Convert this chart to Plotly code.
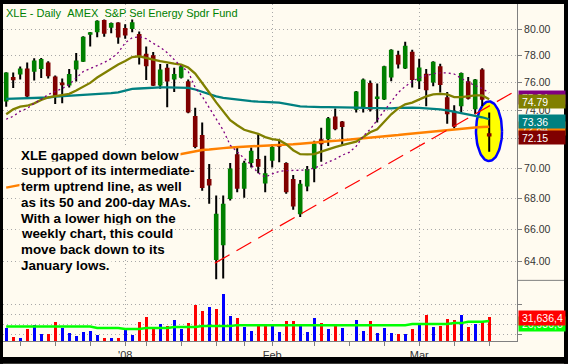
import math
import plotly.graph_objects as go

# ---------------- data ----------------
idx = list(range(70))
opens = [74.63, 76.41, 76.58, 77.02, 76.78, 76.99, 77.47, 76.44, 76.00, 75.78,
         76.95, 77.54, 79.57, 79.76, 80.71, 80.10, 80.52, 80.08, 80.02, 79.63,
         78.13, 78.02, 75.78, 77.08, 76.22, 76.35, 76.09, 73.59, 72.26, 69.27,
         64.07, 64.99, 67.95, 70.94, 68.61, 70.33, 70.60, 68.97, 70.49, 71.62,
         70.33, 69.27, 66.95, 68.76, 69.93, 71.97, 71.97, 73.55, 73.20, None,
         74.03, 74.17, 75.97, 74.81, 74.77, 76.36, 78.06, 77.02, 78.28, 76.09,
         76.65, 76.00, 77.19, 74.92, 73.97, 74.28, 76.09, 74.06, 76.95, 72.38]
highs = [76.76, 76.73, 77.17, 77.47, 77.80, 77.81, 77.56, 76.51, 76.29, 77.00,
         78.19, 79.45, 79.79, 80.68, 80.75, 80.52, 80.54, 80.37, 80.75, 79.82,
         78.68, 78.26, 77.37, 77.36, 77.08, 77.32, 76.22, 74.18, 73.13, 70.27,
         68.17, 68.17, 70.33, 71.50, 70.49, 71.39, 72.31, 70.83, 71.62, 71.85,
         70.38, 69.53, 69.20, 70.13, 71.85, 72.77, 73.52, 74.13, 73.24, None,
         75.38, 76.29, 76.15, 75.92, 77.24, 78.47, 78.36, 79.04, 78.43, 77.75,
         76.99, 77.56, 77.38, 75.31, 74.35, 76.73, 76.41, 76.26, 77.05, 73.83]
lows = [74.24, 75.60, 76.22, 74.92, 76.15, 76.33, 76.29, 74.45, 74.49, 75.63,
        76.07, 77.51, 78.68, 79.38, 79.42, 79.68, 78.89, 79.27, 79.76, 77.32,
        76.18, 75.74, 75.54, 74.22, 75.30, 76.29, 73.78, 71.35, 68.48, 67.63,
        62.89, 62.95, 67.84, 68.39, 68.03, 70.04, 69.65, 68.39, 70.04, 70.38,
        68.28, 67.25, 66.78, 68.46, 69.05, 70.42, 71.50, 72.59, 71.57, None,
        73.83, 73.83, 73.90, 73.13, 74.73, 76.09, 77.02, 76.99, 75.63, 75.53,
        74.28, 75.73, 75.27, 73.05, 72.73, 73.83, 74.77, 73.71, 74.30, 71.10]
closes = [76.73, 76.17, 77.02, 74.99, 77.62, 77.74, 76.46, 74.99, 75.80, 76.63,
          77.62, 79.42, 79.77, 80.64, 79.64, 80.48, 79.36, 79.52, 80.54, 77.91,
          77.19, 75.76, 76.95, 76.07, 76.63, 77.19, 73.83, 71.43, 68.66, 68.83,
          66.99, 67.63, 69.96, 68.61, 70.36, 71.17, 70.08, 69.65, 71.43, 71.44,
          68.39, 67.46, 68.94, 69.93, 71.67, 71.62, 73.43, 72.66, 72.82, None,
          75.35, 76.22, 74.04, 74.99, 77.19, 78.43, 77.32, 78.73, 76.18, 77.10,
          75.43, 77.54, 75.81, 73.71, 72.83, 76.70, 74.82, 76.22, 74.75, 72.15]
volumes = [17300000, 4900000, 4000000, 16000000, 21300000, 9300000, 9300000, 25300000, 17300000, 10700000,
           6700000, 12000000, 13700000, 8000000, 4000000, 4000000, 4000000, 15100000, 8000000, 25300000,
           31600000, 18700000, 22700000, 19600000, 27600000, 16000000, 24000000, 48400000, 40000000, 45400000,
           42700000, 62700000, 33400000, 30700000, 18700000, 13700000, 22700000, 21300000, 20000000, 12000000,
           26700000, 26700000, 22700000, 12000000, 30700000, 24000000, 16000000, 22700000, 17300000, None,
           28000000, 13700000, 26700000, 10700000, 17300000, 10700000, 9300000, 9300000, 16000000, 21300000,
           34700000, 18700000, 20000000, 29400000, 28000000, 34700000, 18700000, 22700000, 26700000, 31636400]
ma10 = [73.36, 73.57, 73.92, 74.13, 74.49, 74.77, 75.13, 75.35, 75.56, 75.85,
        76.29, 76.80, 77.02, 77.25, 77.47, 77.77, 78.21, 78.96, 79.34, 79.42,
        79.27, 78.92, 78.62, 78.21, 77.69, 77.17, 76.80, 75.63, 74.99, 74.20,
        73.36, 72.59, 71.55, 71.08, 70.67, 70.20, 69.67, 69.40, 69.60, 69.77,
        69.82, 69.82, 69.83, 69.87, 70.00, 70.17, 70.40, 70.60, 70.87, 71.06,
        71.48, 72.17, 72.66, 73.29, 73.92, 74.63, 75.27, 75.71, 76.07, 76.36,
        76.51, 76.65, 76.70, 76.70, 76.62, 76.29, 76.00, 75.78, 75.56, 75.24]
ma20 = [73.71, 74.06, 74.25, 74.32, 74.49, 74.74, 74.92, 75.02, 75.10, 75.17,
        75.42, 75.71, 75.97, 76.36, 76.69, 76.99, 77.32, 77.58, 77.88, 77.94,
        77.84, 77.69, 77.58, 77.47, 77.39, 77.32, 77.10, 76.65, 76.00, 75.27,
        74.56, 73.92, 73.29, 72.94, 72.62, 72.48, 72.34, 72.11, 71.97, 71.90,
        71.62, 71.21, 70.94, 70.92, 70.94, 71.11, 71.28, 71.42, 71.56, 71.66,
        71.80, 72.11, 72.45, 72.66, 73.15, 73.71, 74.13, 74.42, 74.54, 74.77,
        74.99, 75.13, 75.17, 75.13, 74.94, 74.94, 75.02, 75.06, 75.06, 74.79]
ma50 = [74.81, 74.82, 74.84, 74.86, 74.88, 74.89, 74.91, 74.97, 75.00, 75.04,
        75.06, 75.08, 75.11, 75.13, 75.18, 75.23, 75.28, 75.38, 75.53, 75.56,
        75.60, 75.63, 75.65, 75.65, 75.65, 75.63, 75.60, 75.49, 75.31, 75.13,
        74.99, 74.88, 74.81, 74.75, 74.70, 74.65, 74.61, 74.59, 74.56, 74.54,
        74.45, 74.35, 74.28, 74.25, 74.22, 74.22, 74.22, 74.22, 74.22, 74.20,
        74.18, 74.16, 74.15, 74.13, 74.13, 74.13, 74.16, 74.18, 74.18, 74.16,
        74.14, 74.13, 74.06, 73.99, 73.88, 73.80, 73.69, 73.60, 73.50, 73.36]
ma200 = [68.69, 68.78, 68.87, 68.97, 69.05, 69.14, 69.24, 69.33, 69.42, 69.51,
         69.60, 69.70, 69.79, 69.87, 69.96, 70.06, 70.15, 70.25, 70.33, 70.43,
         70.52, 70.61, 70.71, 70.80, 70.89, 70.99, 71.08, 71.16, 71.22, 71.25,
         71.28, 71.35, 71.40, 71.42, 71.44, 71.45, 71.48, 71.51, 71.53, 71.56,
         71.59, 71.62, 71.66, 71.69, 71.72, 71.76, 71.81, 71.85, 71.90, 71.94,
         71.97, 72.00, 72.04, 72.09, 72.15, 72.20, 72.25, 72.31, 72.36, 72.42,
         72.45, 72.50, 72.56, 72.63, 72.66, 72.71, 72.75, 72.78, 72.81, 72.84]
vol_ma = [19600000, 19600000, 19600000, 19600000, 19500000, 19500000, 19500000, 19500000, 19500000, 19400000,
          19400000, 19400000, 19400000, 17400000, 17300000, 17300000, 17300000, 16000000, 16000000, 16000000,
          17300000, 17300000, 17300000, 17400000, 18700000, 18700000, 18700000, 18800000, 20000000, 20000000,
          20000000, 20000000, 20100000, 21300000, 21300000, 21300000, 21300000, 21300000, 21300000, 21300000,
          21300000, 21300000, 21300000, 21300000, 21300000, 21300000, 21300000, 21300000, 21300000, 21300000,
          21300000, 21300000, 21300000, 21300000, 21300000, 21300000, 21300000, 21300000, 22700000, 22700000,
          22700000, 22700000, 22700000, 22700000, 24000000, 24000000, 25700000, 25700000, 25800000, 26930600]
trend_x = [29.8, 73.5]
trend_y = [63.88, 75.60]
highlight_center = (68.97, 72.52)      # index, price
highlight_radius = (1.86, 0.02868)     # index units, ln(price) units
month_ticks = [17, 38, 59]
month_labels = ["'08", "Feb", "Mar"]
week_ticks = [2, 7, 12, 20, 25, 30, 34, 44, 49, 54, 64, 69]
price_ticks = [64, 66, 68, 70, 72, 74, 76, 78, 80]
vol_major_grid = [49400000, 9340000]
vol_minor_grid = [36000000, 22700000]
title_text = "XLE - Daily\u00a0\u00a0AMEX\u00a0\u00a0S&P Sel Energy Spdr Fund"
note_lines = ["XLE gapped down below", "support of its intermediate-",
              "term uptrend line, as well", "as its 50 and 200-day MAs.",
              "With a lower high on the", "weekly chart, this could",
              "move back down to its", "January lows."]

# ---------------- geometry / style ----------------
W, H = 568, 364
LM, RM, TM, BM = 3, 51, 4, 21
PW, PH = W - LM - RM, H - TM - BM
def pxx(x): return (x - LM) / PW
def pxy(y): return (H - BM - y) / PH
BG = "#FFFBF0"
SPLIT = pxy(282)
FONT = "Liberation Sans, Arial, sans-serif"
GRID = dict(showgrid=True, gridcolor="#A8A8A8", griddash="1px,3px", gridwidth=1)

fig = go.Figure()

# highlight ellipse
cx, cp = highlight_center
rx, rl = highlight_radius
ang = [2 * math.pi * k / 90 for k in range(91)]
fig.add_trace(go.Scatter(
    x=[cx + rx * math.cos(a) for a in ang],
    y=[math.exp(math.log(cp) + rl * math.sin(a)) for a in ang],
    mode="lines", fill="toself", fillcolor="#FFFF00",
    line=dict(color="#0000FF", width=2.5), hoverinfo="skip", yaxis="y"))

# volume bars
vcol = []
prev = None
for i in idx:
    c = closes[i]
    if c is None:
        vcol.append("#0000FF")
        continue
    ref = prev if prev is not None else opens[i]
    vcol.append("#0000FF" if c >= ref else "#FF0000")
    prev = c
fig.add_trace(go.Bar(x=idx, y=volumes, marker=dict(color=vcol, line=dict(width=0)),
                     width=0.42, yaxis="y2", hoverinfo="skip"))
fig.add_trace(go.Scatter(x=idx, y=vol_ma, mode="lines", line=dict(color="#00FF00", width=2.5),
                         yaxis="y2", hoverinfo="skip"))

# candles: wicks then bodies
wx, wy = [], []
ux, uy, dx, dy = [], [], [], []
for i in idx:
    if opens[i] is None:
        continue
    wx += [i, i, None]
    wy += [lows[i], highs[i], None]
    if closes[i] >= opens[i]:
        ux += [i, i, None]
        uy += [opens[i], closes[i], None]
    else:
        dx += [i, i, None]
        dy += [opens[i], closes[i], None]
fig.add_trace(go.Scatter(x=wx, y=wy, mode="lines", line=dict(color="#000000", width=2),
                         yaxis="y", hoverinfo="skip"))
fig.add_trace(go.Scatter(x=ux, y=uy, mode="lines", line=dict(color="#008000", width=4.6),
                         yaxis="y", hoverinfo="skip"))
fig.add_trace(go.Scatter(x=dx, y=dy, mode="lines", line=dict(color="#800000", width=4.6),
                         yaxis="y", hoverinfo="skip"))

# moving averages
for vals, col, wd, dash in [(ma200, "#FF8000", 2.5, None), (ma50, "#008080", 2.3, None),
                            (ma20, "#808000", 2.3, None), (ma10, "#800080", 1.3, "2px,3px")]:
    fig.add_trace(go.Scatter(x=idx, y=vals, mode="lines",
                             line=dict(color=col, width=wd, dash=dash),
                             yaxis="y", hoverinfo="skip"))
# trend line
fig.add_trace(go.Scatter(x=trend_x, y=trend_y, mode="lines",
                         line=dict(color="#FF0000", width=1.2, dash="17px,8px"),
                         yaxis="y", hoverinfo="skip"))

ann = []
ann.append(dict(xref="paper", yref="paper", x=pxx(4), y=pxy(12.8), xanchor="left", yanchor="middle",
                text=title_text, showarrow=False, font=dict(family=FONT, size=11, color="#008000")))
for k, line in enumerate(note_lines):
    base = 160.7 + 15.85 * k
    ann.append(dict(xref="paper", yref="paper", x=pxx(19), y=pxy(base - 4.6), xanchor="left",
                    yanchor="middle", text="<b>" + line + "</b>", showarrow=False,
                    bgcolor=BG, borderpad=1, font=dict(family=FONT, size=13.4, color="#000000")))

# right-side value labels
for v, col, sh in [(ma10[-1], "#800080", -4.8), (ma20[-1], "#808000", -2.0),
                   (ma200[-1], "#FF8000", -2.0), (ma50[-1], "#008080", -1.8),
                   (closes[-1], "#800000", -1.4)]:
    ann.append(dict(xref="paper", yref="y", x=pxx(517.5), y=math.log10(v), yshift=sh,
                    xanchor="left", yanchor="middle", text="\u00a0" + f"{v:.2f}", showarrow=False,
                    bgcolor=col, width=46, height=13.3, borderpad=0, align="left",
                    font=dict(family=FONT, size=10.5, color="#FFFFFF")))
for v, col, sh in [(vol_ma[-1], "#00FF00", -3.5), (volumes[-1], "#FF0000", -0.7)]:
    ann.append(dict(xref="paper", yref="y2", x=pxx(517.5), y=v, yshift=sh,
                    xanchor="left", yanchor="middle", text="\u00a0" + f"{v:,.0f}"[:8], showarrow=False,
                    bgcolor=col, width=46, height=13.5, borderpad=0, align="left",
                    font=dict(family=FONT, size=10.5, color="#FFFFFF")))

shapes = [
    dict(type="line", xref="paper", yref="paper", x0=pxx(517), x1=pxx(564), y0=pxy(282), y1=pxy(282),
         line=dict(color="#808080", width=1)),
    dict(type="rect", xref="paper", yref="paper", x0=pxx(-2), x1=pxx(570), y0=pxy(4), y1=pxy(-2),
         fillcolor="#000000", line=dict(width=0), layer="above"),
    dict(type="rect", xref="paper", yref="paper", x0=pxx(-2), x1=pxx(3), y0=pxy(366), y1=pxy(-2),
         fillcolor="#000000", line=dict(width=0), layer="above"),
    dict(type="rect", xref="paper", yref="paper", x0=pxx(564), x1=pxx(570), y0=pxy(366), y1=pxy(-2),
         fillcolor="#000000", line=dict(width=0), layer="above"),
    dict(type="rect", xref="paper", yref="paper", x0=pxx(-2), x1=pxx(570), y0=pxy(366), y1=pxy(359),
         fillcolor="#000000", line=dict(width=0), layer="above"),
]

fig.update_layout(
    width=W, height=H, margin=dict(l=LM, r=RM, t=TM, b=BM, pad=0),
    paper_bgcolor=BG, plot_bgcolor=BG, showlegend=False, hovermode=False,
    font=dict(family=FONT, size=11, color="#333333"),
    bargap=0, barmode="overlay",
    xaxis=dict(domain=[0, 1], range=[-0.457, 72.97], anchor="y2", tickmode="array",
               tickvals=month_ticks, ticktext=month_labels, ticks="outside", ticklen=4,
               tickcolor="#808080", showline=True, linecolor="#808080", linewidth=1,
               zeroline=False, tickfont=dict(size=11, color="#333333"), fixedrange=True,
               minor=dict(tickmode="array", tickvals=week_ticks, ticks="outside", ticklen=4,
                          tickcolor="#808080", showgrid=False), **GRID),
    yaxis=dict(domain=[SPLIT, 1], type="log",
               range=[math.log10(math.exp(4.140433)), math.log10(math.exp(4.406215))],
               side="right", anchor="x", tickmode="array", tickvals=price_ticks,
               ticktext=[f"{t:.2f}" for t in price_ticks], ticks="outside", ticklen=4,
               tickcolor="#808080", showline=True, linecolor="#808080", linewidth=1,
               zeroline=False, tickfont=dict(size=10.5, color="#333333"), fixedrange=True, **GRID),
    yaxis2=dict(domain=[0, SPLIT], range=[0, 81.4e6], side="right", anchor="x",
                tickmode="array", tickvals=vol_major_grid, showticklabels=False,
                ticks="outside", ticklen=4, tickcolor="#808080", showline=True,
                linecolor="#808080", linewidth=1, zeroline=False, fixedrange=True,
                minor=dict(tickmode="array", tickvals=vol_minor_grid, ticks="",
                           showgrid=True, gridcolor="#A8A8A8", griddash="1px,3px"),
                **GRID),
    annotations=ann, shapes=shapes,
)

fig.write_html("out.html", config={"displayModeBar": False, "staticPlot": True},
               post_script="document.body.style.margin='0px';document.body.style.padding='0px';")
